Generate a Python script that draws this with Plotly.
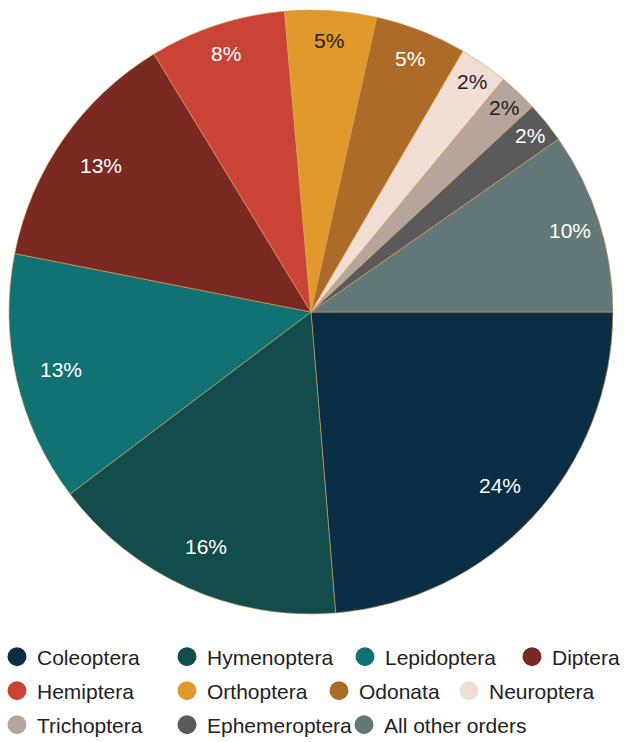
import math
import plotly.graph_objects as go

# ---- data ----
orders = ["Coleoptera", "Hymenoptera", "Lepidoptera", "Diptera", "Hemiptera",
          "Orthoptera", "Odonata", "Neuroptera", "Trichoptera", "Ephemeroptera",
          "All other orders"]
shares = [23.7, 16.0, 13.4, 13.2, 7.3, 4.9, 4.9, 2.6, 2.1, 2.2, 9.7]
pct_labels = ["24%", "16%", "13%", "13%", "8%", "5%", "5%", "2%", "2%", "2%", "10%"]

# ---- styles ----
colors = ["#0a2e45", "#124c4c", "#117274", "#7a2a22", "#c94434", "#e0992a",
          "#ad6b29", "#f0ddd4", "#b5a59b", "#5a5a5a", "#637878"]
text_colors = ["#ffffff", "#ffffff", "#ffffff", "#ffffff", "#ffffff", "#222222",
               "#ffffff", "#222222", "#222222", "#ffffff", "#ffffff"]
legend_row = ["legend", "legend", "legend", "legend",
              "legend2", "legend2", "legend2", "legend2",
              "legend3", "legend3", "legend3"]
legend_item_w = [130, 138, 127, 68, 130, 112, 90, None, 130, 137, None]

FONT = "Liberation Sans, Arial, sans-serif"
W, H = 625, 742
PLOT_H = 625                     # plot area height (legends sit below it)
PX0, PX1, PY0, PY1 = 8, 614, 10, 614   # pie box in pixels

fig = go.Figure()
fig.add_trace(go.Pie(
    labels=orders, values=shares, textinfo="none",
    sort=False, direction="clockwise", rotation=90,
    marker=dict(colors=colors, line=dict(color="#d9a25a", width=0.6)),
    showlegend=False, hoverinfo="label+percent",
    domain=dict(x=[PX0 / W, PX1 / W], y=[1 - PY1 / PLOT_H, 1 - PY0 / PLOT_H]),
))

# percentage labels placed toward the outer part of each slice
cx, cy = (PX0 + PX1) / 2, (PY0 + PY1) / 2
R = min(PX1 - PX0, PY1 - PY0) / 2
total = sum(shares)
cum = 0.0
annotations = []
for lab, s, tc in zip(pct_labels, shares, text_colors):
    theta = (cum + s / 2) / total * 2 * math.pi
    cum += s
    frac = 0.85 if s >= 10 else (0.90 if s >= 4 else 0.93)
    px = cx + R * frac * math.cos(theta)
    py = cy + R * frac * math.sin(theta)
    annotations.append(dict(
        x=px / W, y=1 - py / PLOT_H, xref="paper", yref="paper",
        text=lab, showarrow=False, xanchor="center", yanchor="middle",
        font=dict(family=FONT, size=21, color=tc),
    ))

for name, c, lg, lw in zip(orders, colors, legend_row, legend_item_w):
    kw = {}
    if lw is not None:
        kw["legendwidth"] = lw
    fig.add_trace(go.Scatter(
        x=[None], y=[None], mode="markers", name=name, legend=lg,
        marker=dict(symbol="circle", size=16, color=c, line=dict(color=c, width=3)),
        showlegend=True, hoverinfo="skip", **kw,
    ))

leg_common = dict(orientation="h", xanchor="left", x=2 / W, yanchor="middle",
                  font=dict(family=FONT, size=21, color="#222222"),
                  bgcolor="rgba(0,0,0,0)", itemwidth=30, tracegroupgap=0,
                  indentation=-5)
fig.update_layout(
    width=W, height=H,
    margin=dict(l=0, r=0, t=0, b=H - PLOT_H, autoexpand=False),
    paper_bgcolor="white", plot_bgcolor="white",
    xaxis=dict(visible=False), yaxis=dict(visible=False),
    legend=dict(y=1 - 657 / PLOT_H, **leg_common),
    legend2=dict(y=1 - 691 / PLOT_H, **leg_common),
    legend3=dict(y=1 - 725 / PLOT_H, **leg_common),
    annotations=annotations,
)

fig.write_html("out.html", config={"displayModeBar": False},
               post_script="document.body.style.margin='0px';")
